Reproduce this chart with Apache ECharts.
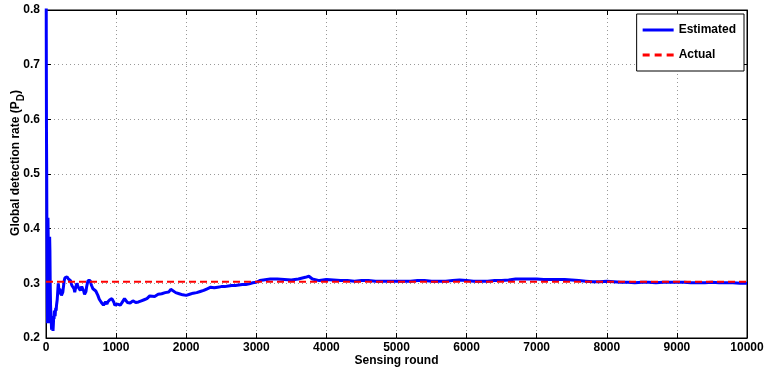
<!DOCTYPE html>
<html>
<head>
<meta charset="utf-8">
<script src="https://cdn.jsdelivr.net/npm/echarts@6/dist/echarts.min.js"></script>
<style>html,body{margin:0;padding:0;background:#fff;}#c{width:769px;height:372px;}</style>
</head>
<body>
<div id="c"></div>
<script>
const rounds = [1,4,7,10,13,16,19,22,25,28,31,34,37,40,44,48,52,56,60,65,70,75,80,85,90,95,100,105,110,115,120,125,130,135,140,145,150,155,160,165,170,175,180,185,190,195,200,210,220,230,240,250,260,270,280,290,300,310,320,330,340,350,360,370,380,390,400,410,420,430,440,450,460,470,480,490,500,510,520,530,540,550,560,570,580,590,600,610,620,630,640,650,660,670,680,690,700,710,720,730,740,750,760,770,780,790,800,810,820,830,840,850,860,870,880,890,900,910,920,930,940,950,960,970,980,990,1000,1020,1040,1060,1080,1100,1120,1140,1160,1180,1200,1220,1240,1260,1280,1300,1320,1340,1360,1380,1400,1420,1440,1460,1480,1500,1550,1600,1650,1700,1750,1780,1800,1850,1900,1950,2000,2050,2100,2150,2200,2250,2300,2350,2400,2450,2500,2550,2600,2650,2700,2750,2800,2850,2900,2950,3000,3050,3100,3150,3200,3300,3400,3500,3600,3700,3750,3800,3900,4000,4100,4200,4300,4400,4500,4600,4700,4800,4900,5000,5100,5200,5300,5400,5500,5600,5700,5800,5900,6000,6100,6200,6300,6400,6500,6600,6700,6800,6900,7000,7100,7200,7300,7400,7500,7600,7700,7800,7900,8000,8100,8200,8300,8400,8500,8600,8700,8800,8900,9000,9100,9200,9300,9400,9500,9600,9700,9800,9900,10000];
const estimated = [1.0,0.75,0.571,0.5,0.385,0.3125,0.263,0.227,0.32,0.42,0.39,0.35,0.30,0.25,0.227,0.31,0.385,0.36,0.30,0.26,0.24,0.23,0.215,0.22,0.233,0.22,0.213,0.225,0.24,0.235,0.25,0.245,0.24,0.25,0.255,0.25,0.26,0.265,0.27,0.28,0.29,0.3,0.295,0.285,0.28,0.29,0.293,0.285,0.278,0.28,0.284,0.295,0.305,0.31,0.311,0.31,0.312,0.309,0.308,0.31,0.306,0.305,0.3,0.296,0.293,0.298,0.29,0.284,0.29,0.296,0.3,0.298,0.293,0.29,0.295,0.287,0.29,0.294,0.296,0.293,0.285,0.28,0.277,0.285,0.294,0.3,0.305,0.307,0.308,0.305,0.3,0.296,0.293,0.29,0.292,0.29,0.29,0.286,0.284,0.283,0.278,0.275,0.271,0.27,0.268,0.265,0.263,0.264,0.26,0.258,0.262,0.266,0.264,0.262,0.266,0.268,0.267,0.27,0.268,0.268,0.272,0.275,0.27,0.265,0.26,0.258,0.259,0.262,0.261,0.26,0.263,0.268,0.272,0.27,0.265,0.263,0.264,0.266,0.268,0.268,0.265,0.264,0.266,0.266,0.268,0.27,0.27,0.272,0.272,0.275,0.277,0.278,0.276,0.28,0.281,0.283,0.284,0.289,0.286,0.283,0.281,0.279,0.278,0.28,0.282,0.283,0.285,0.287,0.29,0.293,0.292,0.293,0.294,0.294,0.295,0.296,0.296,0.297,0.298,0.298,0.299,0.301,0.302,0.305,0.306,0.307,0.308,0.308,0.307,0.306,0.308,0.311,0.313,0.308,0.305,0.307,0.306,0.305,0.305,0.304,0.305,0.305,0.304,0.304,0.304,0.304,0.304,0.304,0.305,0.305,0.304,0.304,0.304,0.305,0.306,0.305,0.304,0.304,0.304,0.305,0.305,0.306,0.308,0.308,0.308,0.308,0.307,0.307,0.307,0.307,0.306,0.305,0.304,0.303,0.303,0.304,0.303,0.302,0.302,0.301,0.302,0.302,0.301,0.302,0.302,0.302,0.302,0.301,0.301,0.301,0.302,0.301,0.301,0.301,0.300,0.300];
const actualRounds = [0, 10000];
const actualValues = [0.303, 0.303];
const xTicks = [0,1000,2000,3000,4000,5000,6000,7000,8000,9000,10000];
const yTicks = [0.2,0.3,0.4,0.5,0.6,0.7,0.8];

const FONT = '"Liberation Sans", Arial, sans-serif';
const estData = rounds.map((r, i) => [r, estimated[i]]);
const actData = actualRounds.map((r, i) => [r, actualValues[i]]);

const chart = echarts.init(document.getElementById('c'), null, {renderer: 'canvas'});
const axisCommon = {
  axisLine: {show: true, onZero: false, lineStyle: {color: '#000', width: 1}},
  axisTick: {show: true, inside: true, length: 5, lineStyle: {color: '#000', width: 1}},
};
chart.setOption({
  animation: false,
  backgroundColor: '#fff',
  grid: {left: 46, right: 22, top: 10, bottom: 34, show: true, borderColor: '#000', borderWidth: 1,
    containLabel: false, outerBoundsMode: 'none'},
  legend: {
    orient: 'vertical', right: 25, top: 14,
    backgroundColor: '#fff', borderColor: '#000', borderWidth: 1,
    padding: [9, 8, 9, 6], itemGap: 11, itemWidth: 31, itemHeight: 3,
    textStyle: {fontFamily: FONT, fontWeight: 'bold', fontSize: 12, color: '#000', lineHeight: 14},
    data: [
      {name: 'Estimated', icon: 'path://M0,0h31v3h-31z', itemStyle: {color: '#0000ff'}},
      {name: 'Actual', icon: 'path://M0,0h7v3h-7z M12,0h7v3h-7z M24,0h7v3h-7z', itemStyle: {color: '#ff0000'}}
    ]
  },
  xAxis: [{
    type: 'value', min: xTicks[0], max: xTicks[xTicks.length - 1], interval: 1000,
    name: 'Sensing round', nameLocation: 'middle', nameGap: 17, nameMoveOverlap: false,
    nameTextStyle: {fontFamily: FONT, fontWeight: 'bold', fontSize: 12, color: '#000'},
    axisLabel: {fontFamily: FONT, fontWeight: 'bold', fontSize: 12, color: '#000', margin: 4,
      formatter: v => String(v)},
    splitLine: {show: true, lineStyle: {color: '#999', type: [1, 3], width: 1}},
    ...axisCommon
  }, {
    type: 'value', position: 'top', min: xTicks[0], max: xTicks[xTicks.length - 1], interval: 1000,
    axisLabel: {show: false}, splitLine: {show: false}, ...axisCommon
  }],
  yAxis: [{
    type: 'value', min: yTicks[0], max: yTicks[yTicks.length - 1], interval: 0.1,
    name: '{a|Global detection rate (P}{s|D}{a|)}', nameLocation: 'middle', nameGap: 20, nameRotate: 90,
    nameMoveOverlap: false,
    nameTextStyle: {fontFamily: FONT, fontWeight: 'bold', fontSize: 12, color: '#000', padding: [0, 0, 0, 22],
      rich: {
        a: {fontFamily: FONT, fontWeight: 'bold', fontSize: 12, color: '#000', lineHeight: 20, verticalAlign: 'middle'},
        s: {fontFamily: FONT, fontWeight: 'bold', fontSize: 10, color: '#000', lineHeight: 20, verticalAlign: 'bottom', padding: [7, 0, 0, 0]}
      }},
    axisLabel: {fontFamily: FONT, fontWeight: 'bold', fontSize: 12, color: '#000', margin: 6,
      formatter: v => v.toFixed(1)},
    splitLine: {show: true, lineStyle: {color: '#999', type: [1, 3], width: 1}},
    ...axisCommon
  }, {
    type: 'value', position: 'right', min: yTicks[0], max: yTicks[yTicks.length - 1], interval: 0.1,
    axisLabel: {show: false}, splitLine: {show: false}, ...axisCommon
  }],
  series: [{
    name: 'Estimated', type: 'line', data: estData, symbol: 'none', clip: true,
    lineStyle: {color: '#0000ff', width: 3}, itemStyle: {color: '#0000ff'}
  }, {
    name: 'Actual', type: 'line', data: actData, symbol: 'none', clip: true,
    lineStyle: {color: '#ff0000', width: 2, type: [7, 4]}, itemStyle: {color: '#ff0000'}
  }]
});
</script>
</body>
</html>
